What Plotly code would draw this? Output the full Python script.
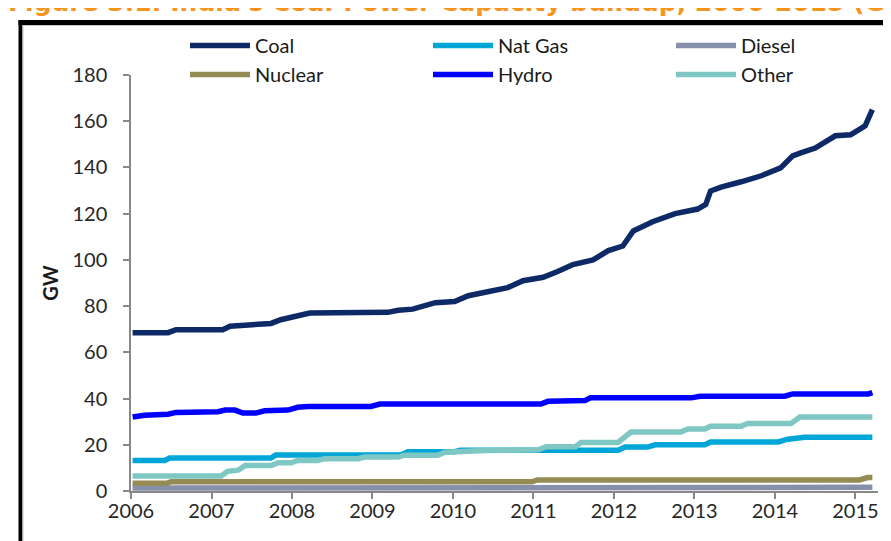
import plotly.graph_objects as go

# ---------------- data (decimal years, GW) ----------------
COAL_X = [2006.02, 2006.46, 2006.56, 2007.14, 2007.23, 2007.45, 2007.54, 2007.74, 2007.86,
          2008.04, 2008.22, 2009.19, 2009.32, 2009.50, 2009.78, 2010.02, 2010.19, 2010.40,
          2010.68, 2010.87, 2011.12, 2011.30, 2011.49, 2011.74, 2011.93, 2012.11, 2012.24,
          2012.48, 2012.76, 2013.04, 2013.14, 2013.20, 2013.33, 2013.58, 2013.83, 2014.07,
          2014.22, 2014.32, 2014.50, 2014.75, 2014.94, 2015.12, 2015.21]
COAL_Y = [68.5, 68.5, 69.8, 69.8, 71.3, 71.8, 72.5, 72.5, 74.1,
          75.5, 77.0, 77.3, 78.2, 78.7, 81.5, 82.0, 84.5, 86.0,
          88.0, 91.0, 92.5, 95.0, 98.0, 100.0, 104.0, 106.0, 112.5,
          116.5, 120.0, 122.0, 124.0, 129.8, 131.5, 133.8, 136.4, 139.8,
          145.0, 146.3, 148.4, 153.7, 154.1, 158.0, 165.0]

GAS_X = [2006.02, 2006.42, 2006.48, 2007.74, 2007.80, 2009.35, 2009.44, 2010.02, 2010.09,
         2012.05, 2012.14, 2012.42, 2012.51, 2013.13, 2013.20, 2014.04, 2014.16, 2014.37, 2015.21]
GAS_Y = [13.2, 13.2, 14.3, 14.3, 15.6, 15.6, 17.0, 17.0, 17.6,
         17.6, 19.0, 19.0, 20.0, 20.0, 21.2, 21.2, 22.4, 23.3, 23.3]

DIESEL_X = [2006.02, 2015.10, 2015.21]
DIESEL_Y = [1.3, 1.3, 1.6]

NUCLEAR_X = [2006.02, 2006.45, 2006.50, 2010.98, 2011.05, 2015.05, 2015.15, 2015.21]
NUCLEAR_Y = [3.4, 3.4, 4.0, 4.0, 4.8, 4.8, 5.8, 5.8]

HYDRO_X = [2006.02, 2006.17, 2006.46, 2006.56, 2007.08, 2007.17, 2007.29, 2007.39, 2007.55,
           2007.66, 2007.95, 2008.07, 2008.20, 2008.98, 2009.09, 2011.09, 2011.18, 2011.64,
           2011.71, 2012.96, 2013.07, 2014.12, 2014.22, 2015.16, 2015.21]
HYDRO_Y = [32.0, 32.8, 33.2, 34.0, 34.3, 35.0, 35.0, 33.7, 33.7,
           34.7, 35.0, 36.2, 36.6, 36.6, 37.6, 37.6, 38.8, 39.2,
           40.3, 40.3, 41.0, 41.0, 42.0, 42.0, 42.6]

OTHER_X = [2006.02, 2007.12, 2007.20, 2007.33, 2007.42, 2007.74, 2007.83, 2007.99, 2008.07,
           2008.32, 2008.41, 2008.82, 2008.91, 2009.32, 2009.40, 2009.81, 2009.90, 2010.40,
           2011.06, 2011.16, 2011.52, 2011.59, 2012.05, 2012.21, 2012.83, 2012.92, 2013.13,
           2013.20, 2013.58, 2013.66, 2014.20, 2014.31, 2015.21]
OTHER_Y = [6.5, 6.5, 8.5, 9.0, 11.0, 11.0, 12.2, 12.2, 13.2,
           13.2, 14.0, 14.0, 14.7, 14.7, 15.5, 15.5, 16.8, 17.5,
           17.8, 19.2, 19.2, 21.0, 21.0, 25.5, 25.5, 26.8, 26.8,
           28.0, 28.0, 29.2, 29.2, 32.0, 32.0]

SERIES_NAMES = ["Coal", "Nat Gas", "Diesel", "Nuclear", "Hydro", "Other"]
YEAR_TICKS = [2006, 2007, 2008, 2009, 2010, 2011, 2012, 2013, 2014, 2015]
YEAR_LABELS = ["2006", "2007", "2008", "2009", "2010", "2011", "2012", "2013", "2014", "2015"]
TITLE = "Figure 3.1: India's Coal-Power Capacity buildup, 2006-2015 (GW)"

# ---------------- styling ----------------
COLORS = ["#0E2A66", "#00A6D8", "#8690AA", "#958B55", "#0000FF", "#7FC7C3"]
W, H = 891, 541
ML, MR, MT, MB = 123, 21, 67, 58
PW, PH = W - ML - MR, H - MT - MB


def px_x(px):
    return (px - ML) / PW


def px_y(py):
    return (H - MB - py) / PH


xs = [COAL_X, GAS_X, DIESEL_X, NUCLEAR_X, HYDRO_X, OTHER_X]
ys = [COAL_Y, GAS_Y, DIESEL_Y, NUCLEAR_Y, HYDRO_Y, OTHER_Y]

fig = go.Figure()
for name, x, y, c in zip(SERIES_NAMES, xs, ys, COLORS):
    fig.add_trace(go.Scatter(x=x, y=y, name=name, mode="lines",
                             line=dict(color=c, width=5.5)))

axis_col = "#888888"
tick_font = dict(family="Lato", size=20, color="#262626")

fig.update_layout(
    width=W, height=H,
    margin=dict(l=ML, r=MR, t=MT, b=MB, autoexpand=False),
    paper_bgcolor="white", plot_bgcolor="white",
    font=dict(family="Lato", size=20, color="#262626"),
    showlegend=True,
    legend=dict(orientation="h", x=px_x(177), xanchor="left", y=px_y(18), yanchor="top",
                font=dict(family="Lato", size=20, color="#1a1a1a"),
                entrywidth=168, entrywidthmode="pixels", itemwidth=60,
                bgcolor="rgba(0,0,0,0)", traceorder="normal"),
    xaxis=dict(range=[2006, 2015.28], tickvals=YEAR_TICKS, ticktext=YEAR_LABELS,
               showgrid=False, zeroline=False, showline=True, linecolor=axis_col, linewidth=1.5,
               ticks="outside", ticklen=6, tickcolor=axis_col, tickwidth=1.5,
               tickfont=tick_font, ticklabelstandoff=-5),
    yaxis=dict(range=[0, 180], dtick=20, showgrid=False, zeroline=False,
               showline=True, linecolor=axis_col, linewidth=1.5,
               ticks="outside", ticklen=6, tickcolor=axis_col, tickwidth=1.5,
               tickfont=tick_font, ticklabelstandoff=12,
               title=dict(text="<b>GW</b>", font=dict(family="Lato", size=20, color="#1a1a1a"),
                          standoff=8)),
)

# cut-off figure caption at the very top
fig.add_annotation(text="<b>" + TITLE + "</b>", xref="paper", yref="paper",
                   x=px_x(-2), xanchor="left", y=px_y(11), yanchor="bottom",
                   showarrow=False,
                   font=dict(family="DejaVu Sans", size=25, color="#F7941D"))

# frame around the chart (black, with a thin grey inner edge)
fig.add_shape(type="line", xref="paper", yref="paper",
              x0=px_x(12.5), x1=px_x(12.5), y0=px_y(12), y1=px_y(560),
              line=dict(color="black", width=4))
fig.add_shape(type="line", xref="paper", yref="paper",
              x0=px_x(10.5), x1=px_x(900), y0=px_y(14.5), y1=px_y(14.5),
              line=dict(color="black", width=5))
fig.add_shape(type="line", xref="paper", yref="paper",
              x0=px_x(15), x1=px_x(15), y0=px_y(17), y1=px_y(560),
              line=dict(color="#c8c8c8", width=1))
fig.add_shape(type="line", xref="paper", yref="paper",
              x0=px_x(15), x1=px_x(900), y0=px_y(17.5), y1=px_y(17.5),
              line=dict(color="#c8c8c8", width=1))

fig.write_html("out.html")
